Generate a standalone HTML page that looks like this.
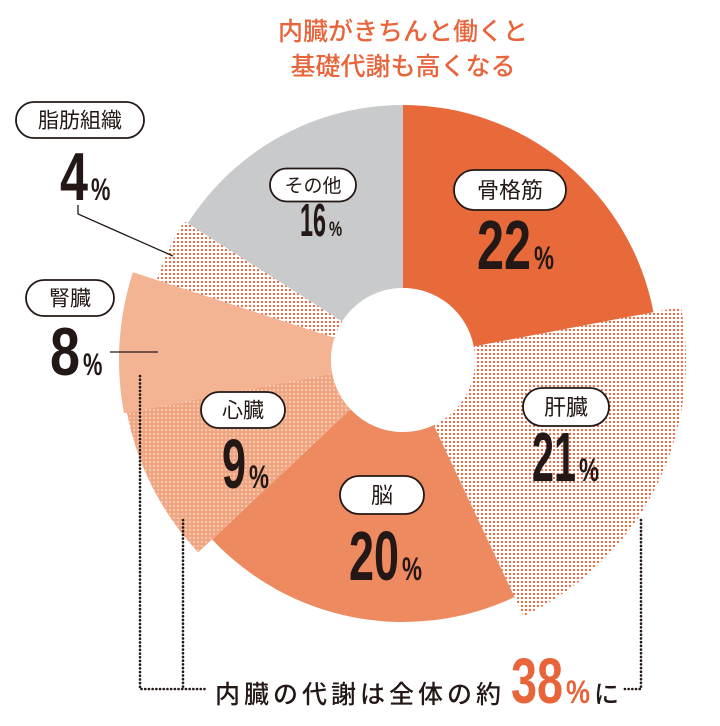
<!DOCTYPE html>
<html><head><meta charset="utf-8">
<style>
html,body{margin:0;padding:0;background:#fff;}
svg{display:block;}
.jp{font-family:"Liberation Sans","Noto Sans CJK JP",sans-serif;}
.num{font-family:"Liberation Sans Narrow","Liberation Sans",sans-serif;font-weight:bold;fill:#231815;}
</style></head>
<body>
<svg id="s" width="720" height="726" viewBox="0 0 720 726" xmlns="http://www.w3.org/2000/svg">
<defs>
<pattern id="pRed" width="4" height="4" patternUnits="userSpaceOnUse">
<rect width="4" height="4" fill="#fff"/><circle cx="2" cy="2" r="1.15" fill="#e8643a"/></pattern>
<pattern id="pHeart" width="4" height="4" patternUnits="userSpaceOnUse">
<rect width="4" height="4" fill="#f0a47f"/><circle cx="2" cy="2" r="0.9" fill="#fbe0d2"/></pattern>
</defs>
<g id="pie"></g>
<g class="jp" fill="#e8643a" font-size="25" text-anchor="middle" font-weight="500">
<text x="403" y="40">内臓がきちんと働くと</text>
<text x="403" y="75">基礎代謝も高くなる</text>
</g>
<polyline points="78,205 78,214 173,256" fill="none" stroke="#231815" stroke-width="1.3"/>
<line x1="110" y1="352" x2="158" y2="352" stroke="#231815" stroke-width="1.3"/>
<g stroke="#231815" stroke-width="2.6" stroke-linecap="round" stroke-dasharray="0.1 3.6" fill="none">
<polyline points="140,376 140,689 206,689"/>
<line x1="183" y1="520" x2="183" y2="689"/>
<polyline points="641,520 641,689 624,689"/>
</g>
<g id="labels"></g>
<text class="jp" x="215" y="703" font-size="25" fill="#231815" font-weight="500" letter-spacing="4">内臓の代謝は全体の約</text>
<text class="num" x="511" y="703" font-size="64" style="fill:#e8643a" textLength="52" lengthAdjust="spacingAndGlyphs">38</text>
<text class="num" x="566" y="703" font-size="32" style="fill:#e8643a" textLength="24" lengthAdjust="spacingAndGlyphs">%</text>
<text class="jp" x="594" y="703" font-size="25" fill="#231815" font-weight="500">に</text>
</svg>
<script>
var cx=403,cy=360,ri=72;
var sl=[[22,255,'#e86a3a'],[21,283,'url(#pRed)'],[20,262,'#ee8a5f'],[9,281,'url(#pHeart)'],[8,284,'#f4b393'],[4,259,'url(#pRed)'],[16,255,'#c9cacb']];
var a=0,h='';
function pt(r,d){var t=d*Math.PI/180;return [(cx+r*Math.sin(t)).toFixed(2),(cy-r*Math.cos(t)).toFixed(2)];}
sl.forEach(function(s){var a1=a+s[0]*3.6,r=s[1];var p1=pt(r,a),p2=pt(r,a1),q1=pt(ri,a1),q2=pt(ri,a);
h+='<path d="M'+p1+' A'+r+' '+r+' 0 0 1 '+p2+' L'+q1+' A'+ri+' '+ri+' 0 0 0 '+q2+' Z" fill="'+s[2]+'"/>';a=a1;});
h+='<circle cx="'+cx+'" cy="'+cy+'" r="'+ri+'" fill="#fff"/>';
document.getElementById('pie').innerHTML=h;
var P=[[313,185,86,33,'その他',19],[510,190,112,40,'骨格筋',22],[566,407,86,38,'肝臓',22],[382,495,84,38,'脳',22],[243,410,84,36,'心臓',21],[70,298,88,36,'腎臓',21],[80,120,128,36,'脂肪組織',21]];
var N=[[300,236,'16',46,26],[477,269,'22',70,54],[532,481,'21',70,44],[349,580,'20',70,50],[222,488,'9',70,24],[50,375,'8',68,30],[60,200,'4',68,28]];
var L='';
P.forEach(function(p){L+='<rect x="'+(p[0]-p[2]/2)+'" y="'+(p[1]-p[3]/2)+'" width="'+p[2]+'" height="'+p[3]+'" rx="'+(p[3]/2)+'" fill="#fff" stroke="#231815" stroke-width="1.8"/>';
L+='<text class="jp" x="'+p[0]+'" y="'+(p[1]+p[5]*0.36)+'" font-size="'+p[5]+'" text-anchor="middle" fill="#231815">'+p[4]+'</text>';});
N.forEach(function(n){var ps=n[3]*0.46;L+='<text class="num" x="'+n[0]+'" y="'+n[1]+'" font-size="'+n[3]+'" textLength="'+n[4]+'" lengthAdjust="spacingAndGlyphs">'+n[2]+'</text>';
L+='<text class="num" x="'+(n[0]+n[4]+3)+'" y="'+n[1]+'" font-size="'+ps+'" textLength="'+(ps*0.62)+'" lengthAdjust="spacingAndGlyphs">%</text>';});
document.getElementById('labels').innerHTML=L;
</script>
</body></html>
